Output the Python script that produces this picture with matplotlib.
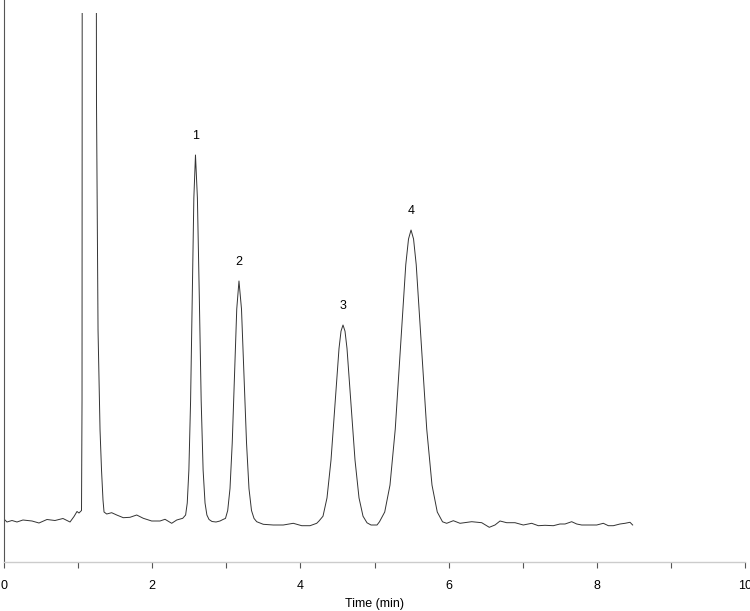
import matplotlib
matplotlib.use("Agg")
import matplotlib.pyplot as plt
from matplotlib.patches import Rectangle

plt.rcParams['font.family'] = ['Liberation Sans', 'DejaVu Sans']

# chromatogram trace (time in min, detector response)
time_min = [
    0.013, 0.040, 0.108, 0.175, 0.256, 0.378, 0.472, 0.580, 0.688, 0.796,
    0.891, 0.945, 0.985, 1.012, 1.046, 1.053, 1.057, 1.147, 1.242, 1.248,
    1.269, 1.296, 1.316, 1.336, 1.350, 1.386, 1.453, 1.521, 1.610, 1.700,
    1.791, 1.880, 1.993, 2.105, 2.173, 2.263, 2.331, 2.412,
    # peak 1
    2.451, 2.473, 2.495, 2.518, 2.540, 2.562, 2.584, 2.610, 2.636, 2.661,
    2.687, 2.713, 2.738, 2.767, 2.807, 2.861, 2.915, 2.955,
    # peak 2
    2.989, 3.019, 3.050, 3.080, 3.111, 3.141, 3.171, 3.205, 3.239, 3.273,
    3.306, 3.340, 3.374, 3.410, 3.499, 3.634, 3.769, 3.904, 4.018, 4.130,
    4.220,
    # peak 3
    4.251, 4.305, 4.359, 4.413, 4.467, 4.521, 4.548, 4.575, 4.602, 4.629,
    4.683, 4.737, 4.791, 4.845, 4.899, 4.953, 5.034,
    # peak 4
    5.067, 5.138, 5.209, 5.280, 5.351, 5.422, 5.459, 5.493, 5.527, 5.563,
    5.634, 5.705, 5.776, 5.847, 5.918,
    # tail baseline
    5.974, 6.064, 6.154, 6.312, 6.447, 6.549, 6.626, 6.694, 6.784, 6.896,
    7.008, 7.121, 7.211, 7.301, 7.413, 7.503, 7.571, 7.661, 7.729, 7.796,
    7.908, 7.999, 8.088, 8.156, 8.223, 8.313, 8.381, 8.448, 8.484,
]
signal = [
    42, 40, 41.5, 40, 42, 41, 39, 42.5, 41.5, 43.5,
    40, 45.5, 50.5, 49, 51.5, 162, 862, 2062, 862, 462,
    232, 132, 92, 62, 50, 48, 49.3, 47, 44.3, 44.7,
    47, 43.7, 41, 41, 42.7, 38.7, 42, 43.7,
    47, 59, 92, 161, 264, 364, 407, 364, 264, 161,
    92, 59, 47, 42.5, 40.5, 40, 41, 42.5,
    43.6, 51.5, 73.5, 119, 187, 253, 281, 253, 187, 119,
    73.5, 51.5, 43.6, 40.3, 37.7, 37, 37, 38.7, 36.3, 36.3,
    38.7,
    41, 45.8, 64.1, 101.9, 158.3, 213.5, 230.8, 237, 230.8, 213.5,
    158.3, 101.9, 64.1, 45.8, 39.2, 37, 37,
    40.2, 50, 76.9, 132.8, 215.9, 297.3, 323, 332, 323, 297.3,
    215.9, 132.8, 76.9, 50, 40.2,
    38.7, 41.3, 38.7, 40.3, 39.3, 34.7, 37, 41, 39.3, 39.3,
    37, 38.7, 36.3, 36.7, 36.3, 38, 38, 40.3, 38, 37,
    37, 37, 38.7, 36.3, 36.3, 38, 38.7, 39.7, 37,
]

peak_names = ['1', '2', '3', '4']
peak_times = [2.584, 3.171, 4.575, 5.493]

x_ticks = [0, 2, 4, 6, 8, 10]
x_minor = [1, 3, 5, 7, 9]

fig = plt.figure(figsize=(7.5, 6.11), dpi=100)
ax = fig.add_axes([4 / 750, 49 / 611, 741 / 750, 562 / 611])

line, = ax.plot(time_min, signal, color='#333333', linewidth=0.7)
# detector saturates just below the top of the frame
line.set_clip_path(Rectangle((0, -10), 10, 559, transform=ax.transData))

for name, t in zip(peak_names, peak_times):
    i = min(range(len(time_min)), key=lambda k: abs(time_min[k] - t))
    ax.annotate(name, (time_min[i], signal[i]), xytext=(0, 14),
                textcoords='offset points', ha='center', va='center',
                fontsize=9, color='black')

ax.set_xlim(0, 10)
ax.set_ylim(0, 562)
ax.set_xticks(x_ticks)
ax.set_xticks(x_minor, minor=True)
ax.set_xticklabels([str(v) for v in x_ticks], fontsize=9)
ax.set_yticks([])
ax.tick_params(axis='x', which='both', direction='out', length=4,
               width=0.8, color='#555555', pad=9)
ax.set_xlabel('Time (min)', fontsize=9, labelpad=4)

ax.spines['top'].set_visible(False)
ax.spines['right'].set_visible(False)
ax.spines['left'].set_color('#555555')
ax.spines['left'].set_linewidth(0.8)
ax.spines['bottom'].set_color('#cccccc')
ax.spines['bottom'].set_linewidth(1.0)

fig.savefig('out.png', dpi=100)
